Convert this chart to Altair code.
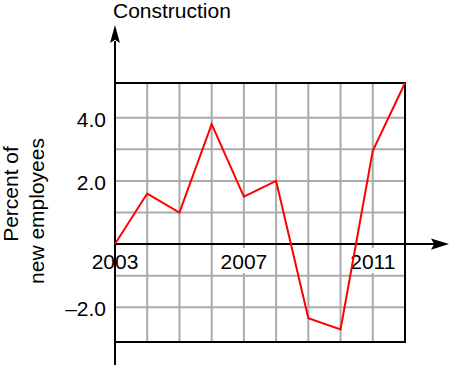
import altair as alt
import pandas as pd

# ---- data ----
years = [2003, 2004, 2005, 2006, 2007, 2008, 2009, 2010, 2011, 2012]
values = [0.0, 1.6, 1.0, 3.8, 1.5, 2.0, -2.35, -2.7, 2.95, 5.1]

grid_years = [2004, 2005, 2006, 2007, 2008, 2009, 2010, 2011]
grid_values = [-2, -1, 1, 2, 3, 4]

x_label_years = [2003, 2007, 2011]
x_labels = ["2003", "2007", "2011"]

y_label_values = [4, 2, -2]
y_labels = ["4.0", "2.0", "–2.0"]

title_text = "Construction"
y_title_lines = ["Percent of", "new employees"]

FONT = "Liberation Sans"
FS = 21

xs = alt.Scale(domain=[2003, 2012], nice=False, zero=False)
ys = alt.Scale(domain=[-3.1, 5.1], nice=False, zero=False)

df_line = pd.DataFrame({"year": years, "value": values})
df_gx = pd.DataFrame({"gx": grid_years})
df_gy = pd.DataFrame({"gy": grid_values})
df_xl = pd.DataFrame({"lx": x_label_years, "lt": x_labels, "z": [0] * len(x_labels)})
df_yl = pd.DataFrame({"ly": y_label_values, "lt": y_labels})
one = pd.DataFrame({"z": [0]})

GRID = "#aaaaaa"

vgrid = alt.Chart(df_gx).mark_rule(color=GRID, strokeWidth=2).encode(
    x=alt.X("gx:Q", scale=xs, axis=None),
    y=alt.value(0), y2=alt.value(259),
)
hgrid = alt.Chart(df_gy).mark_rule(color=GRID, strokeWidth=2).encode(
    y=alt.Y("gy:Q", scale=ys, axis=None),
    x=alt.value(0), x2=alt.value(290),
)

# white boxes behind the year labels
label_bg = alt.Chart(df_xl).mark_rect(
    color="white", xOffset=-25, x2Offset=25, yOffset=4, y2Offset=29
).encode(
    x=alt.X("lx:Q", scale=xs, axis=None),
    x2="lx:Q",
    y=alt.Y("z:Q", scale=ys, axis=None),
    y2="z:Q",
)
xlab = alt.Chart(df_xl).mark_text(
    font=FONT, fontSize=FS, align="center", baseline="alphabetic", dy=25, color="black"
).encode(
    x=alt.X("lx:Q", scale=xs, axis=None),
    y=alt.Y("z:Q", scale=ys, axis=None),
    text="lt:N",
)

ylab = alt.Chart(df_yl).mark_text(
    font=FONT, fontSize=FS, align="right", baseline="alphabetic", dy=9, color="black"
).encode(
    y=alt.Y("ly:Q", scale=ys, axis=None),
    x=alt.value(-9),
    text="lt:N",
)

# frame (top, right, bottom)
frame_top = alt.Chart(one).mark_rule(color="black", strokeWidth=2).encode(
    x=alt.value(0), x2=alt.value(291), y=alt.value(0)
)
frame_right = alt.Chart(one).mark_rule(color="black", strokeWidth=2).encode(
    x=alt.value(290), y=alt.value(0), y2=alt.value(259)
)
frame_bottom = alt.Chart(one).mark_rule(color="black", strokeWidth=2).encode(
    x=alt.value(0), x2=alt.value(291), y=alt.value(259)
)

# axes with arrows
yaxis = alt.Chart(one).mark_rule(color="black", strokeWidth=2).encode(
    x=alt.value(0), y=alt.value(-42), y2=alt.value(282)
)
xaxis = alt.Chart(one).mark_rule(color="black", strokeWidth=2).encode(
    x=alt.value(0), x2=alt.value(322), y=alt.Y("z:Q", scale=ys, axis=None)
)
up_arrow = alt.Chart(one).mark_point(
    shape="M0,-1 L0.55,1 L0,0.65 L-0.55,1 Z", filled=True, color="black",
    size=324, opacity=1, strokeWidth=0
).encode(x=alt.value(0), y=alt.value(-49))
right_arrow = alt.Chart(one).mark_point(
    shape="M1,0 L-1,0.62 L-0.65,0 L-1,-0.62 Z", filled=True, color="black",
    size=324, opacity=1, strokeWidth=0
).encode(x=alt.value(325), y=alt.Y("z:Q", scale=ys, axis=None))

line = alt.Chart(df_line).mark_line(color="#ff0000", strokeWidth=2).encode(
    x=alt.X("year:Q", scale=xs, axis=None),
    y=alt.Y("value:Q", scale=ys, axis=None),
)

title = alt.Chart(one).mark_text(
    font=FONT, fontSize=FS, align="left", baseline="alphabetic", color="black"
).encode(x=alt.value(-2), y=alt.value(-65), text=alt.value(title_text))

yt1 = alt.Chart(one).mark_text(
    font=FONT, fontSize=FS, align="center", baseline="alphabetic", angle=270, color="black"
).encode(x=alt.value(-97), y=alt.value(111), text=alt.value(y_title_lines[0]))
yt2 = alt.Chart(one).mark_text(
    font=FONT, fontSize=FS, align="center", baseline="alphabetic", angle=270, color="black"
).encode(x=alt.value(-71.5), y=alt.value(128), text=alt.value(y_title_lines[1]))

chart = alt.layer(
    vgrid, hgrid, label_bg, xlab, ylab,
    frame_top, frame_right, frame_bottom,
    xaxis, yaxis, up_arrow, right_arrow,
    line, title, yt1, yt2,
).properties(
    width=290, height=259,
    padding={"left": 115, "top": 83, "right": 45, "bottom": 23},
    autosize=alt.AutoSizeParams(type="none"),
).configure_view(stroke=None)

chart.save("out.html", embed_options={"renderer": "svg", "actions": False})
